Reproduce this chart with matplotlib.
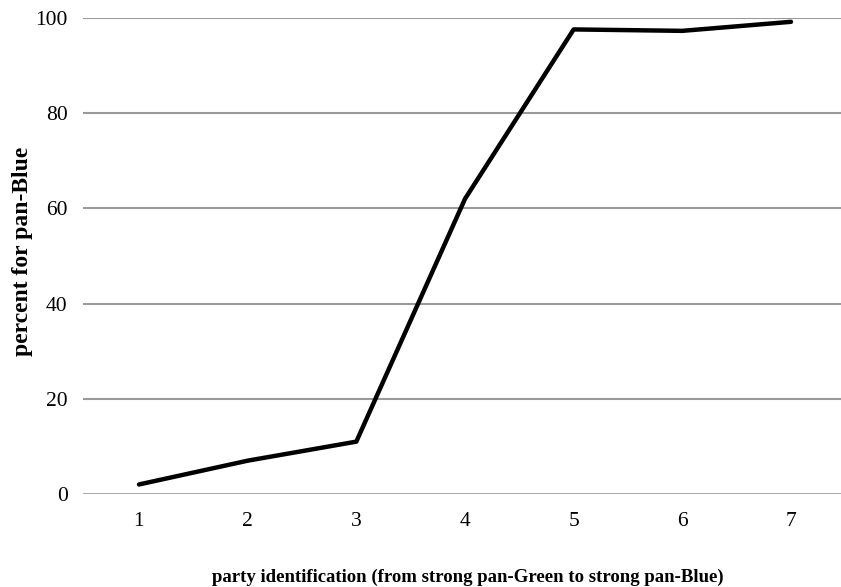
import matplotlib
matplotlib.use("Agg")
import matplotlib.pyplot as plt

party_id = [1, 2, 3, 4, 5, 6, 7]
pct_blue = [2.0, 7.0, 11.0, 62.0, 97.6, 97.3, 99.2]
y_ticks = [0, 20, 40, 60, 80, 100]

plt.rcParams['font.family'] = ['Liberation Serif', 'DejaVu Serif']

fig = plt.figure(figsize=(8.41, 5.87), dpi=100)
ax = fig.add_axes([83/841, (587-494)/587, 1 - 83/841, (494-18)/587])

for y in y_ticks[1:]:
    ax.axhline(y, color='#999999', lw=1.5, zorder=1)
ax.axhline(0, color='#999999', lw=1.2, zorder=1)

ax.plot(party_id, pct_blue, color='black', lw=3.2, solid_capstyle='round', zorder=3, clip_on=False)

ax.set_xlim(0.485, 7.46)
ax.set_ylim(0, 100)
ax.set_xticks(party_id)
ax.set_yticks(y_ticks)
ax.tick_params(length=0, labelsize=15.5)
ax.tick_params(axis='x', pad=13)
ax.tick_params(axis='y', pad=11)
for s in ax.spines.values():
    s.set_visible(False)

fig.text(468/841, 1 - 577/587, 'party identification (from strong pan-Green to strong pan-Blue)',
         ha='center', va='center', fontsize=13.5, fontweight='bold')
fig.text(23/841, 1 - 251/587, 'percent for pan-Blue', rotation=90,
         ha='center', va='center', fontsize=17, fontweight='bold')

fig.savefig('out.png', dpi=100)
